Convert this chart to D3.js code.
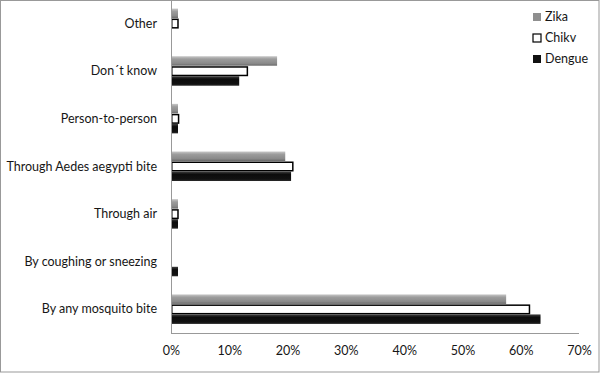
<!DOCTYPE html>
<html>
<head>
<meta charset="UTF-8">
<script src="https://d3js.org/d3.v7.min.js"></script>
<style>
  body { margin: 0; background: #fff; }
  text { font-family: Lato, "Open Sans", sans-serif; fill: #161616; }
</style>
</head>
<body>
<div id="chart"></div>
<script>
// categories from top to bottom
var categories = ["Other", "Don\u00b4t know", "Person-to-person", "Through Aedes aegypti bite",
                  "Through air", "By coughing or sneezing", "By any mosquito bite"];
var series = ["Zika", "Chikv", "Dengue"];
// percent values, same order as categories
var zika   = [1.2, 18.2, 1.2, 19.6, 1.2, 0, 57.5];
var chikv  = [1.2, 13.1, 1.3, 20.9, 1.2, 0, 61.5];
var dengue = [0, 11.7, 1.2, 20.6, 1.2, 1.2, 63.4];
var ticks = [0, 10, 20, 30, 40, 50, 60, 70];

var W = 600, H = 373;
var left = 171, axisY = 333;

var svg = d3.select("#chart").append("svg")
  .attr("width", W).attr("height", H);

// gradients for the bevelled bar look
var defs = svg.append("defs");
function grad(id, stops) {
  var g = defs.append("linearGradient").attr("id", id)
    .attr("x1", 0).attr("y1", 0).attr("x2", 0).attr("y2", 1);
  stops.forEach(function(s) {
    g.append("stop").attr("offset", s[0]).attr("stop-color", s[1]);
  });
}
grad("gZika", [[0, "#c8c8c8"], [0.3, "#9c9c9c"], [0.75, "#8a8a8a"], [1, "#6a6a6a"]]);
grad("gDengue", [[0, "#404040"], [0.3, "#0c0c0c"], [0.8, "#111"], [1, "#2a2a2a"]]);

var fills = {Zika: "url(#gZika)", Chikv: "#fff", Dengue: "url(#gDengue)"};
var strokes = {Zika: "none", Chikv: "#000", Dengue: "none"};
var legendFill = {Zika: "#8f8f8f", Chikv: "#fff", Dengue: "#111"};

// outer frame
svg.append("rect")
  .attr("x", 0.5).attr("y", 0.5).attr("width", W - 1.5).attr("height", H - 1.5)
  .attr("fill", "none").attr("stroke", "#999");

var g = svg.append("g").attr("transform", "translate(" + left + ",0)");

var x = d3.scaleLinear().domain([0, 70]).range([0, 408]);
var y = d3.scaleBand().domain(categories).range([5, 328]).paddingInner(0.37).paddingOuter(0.075);
var ySub = d3.scaleBand().domain(series).range([0, y.bandwidth()]);

var rows = categories.map(function(c, i) {
  return {cat: c, vals: [
    {s: "Zika", v: zika[i]}, {s: "Chikv", v: chikv[i]}, {s: "Dengue", v: dengue[i]}
  ]};
});

// bars
var grp = g.selectAll(".row").data(rows).enter().append("g")
  .attr("transform", function(d) { return "translate(0," + y(d.cat) + ")"; });

grp.selectAll("rect").data(function(d) { return d.vals.filter(function(e) { return e.v > 0; }); })
  .enter().append("rect")
  .attr("x", function(d) { return d.s === "Chikv" ? 0.75 : 0; })
  .attr("y", function(d) { return ySub(d.s) + (d.s === "Chikv" ? 0.75 : 0); })
  .attr("width", function(d) { return x(d.v) - (d.s === "Chikv" ? 0.75 : 0); })
  .attr("height", function(d) { return ySub.bandwidth() - (d.s === "Chikv" ? 1.5 : 0.5); })
  .attr("fill", function(d) { return fills[d.s]; })
  .attr("stroke", function(d) { return strokes[d.s]; })
  .attr("stroke-width", 1.5);

// axes
var xAxis = g.append("g").attr("transform", "translate(0," + axisY + ")")
  .call(d3.axisBottom(x).tickValues(ticks).tickSize(0).tickPadding(13)
    .tickFormat(function(d) { return d + "%"; }));
xAxis.select(".domain").attr("stroke", "#999").attr("d", "M0,0.5H408");
xAxis.selectAll("text").style("font-size", "12.5px").attr("fill", "#161616");

var yAxis = g.append("g").call(d3.axisLeft(y).tickSize(0).tickPadding(14));
yAxis.select(".domain").attr("stroke", "#999").attr("d", "M0.5,0V" + axisY);
yAxis.selectAll("text").style("font-size", "12.5px").attr("fill", "#161616");

// legend
var leg = svg.append("g").attr("transform", "translate(533,17)");
series.forEach(function(s, i) {
  var r = leg.append("g").attr("transform", "translate(0," + (i * 21) + ")");
  r.append("rect").attr("x", 0).attr("y", -4).attr("width", 8).attr("height", 8)
    .attr("fill", legendFill[s]).attr("stroke", s === "Chikv" ? "#000" : "none").attr("stroke-width", 1.2);
  r.append("text").attr("x", 12).attr("y", 0).attr("dy", "0.35em")
    .style("font-size", "12.5px").text(s);
});
</script>
</body>
</html>
